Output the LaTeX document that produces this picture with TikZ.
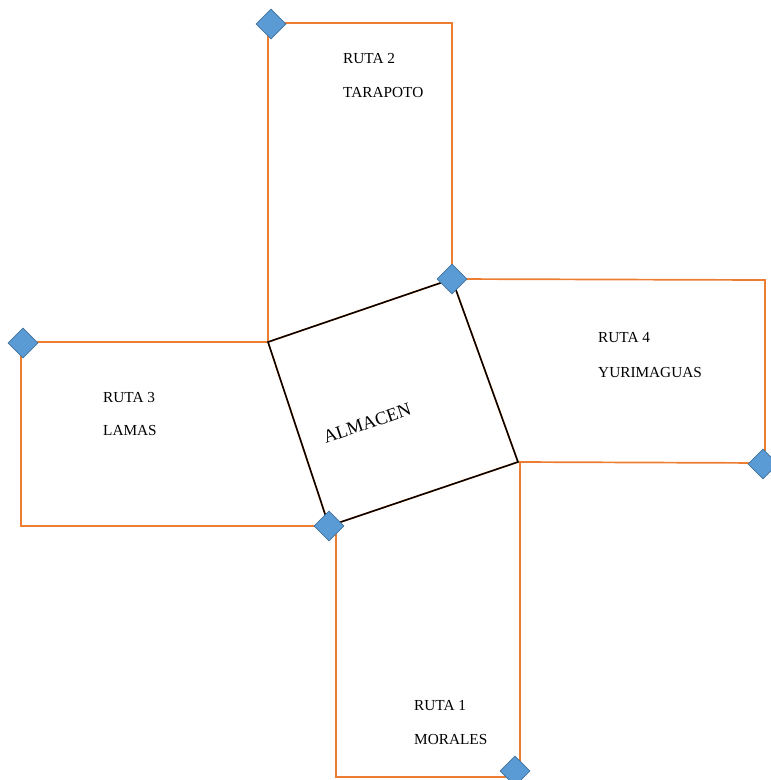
\documentclass[tikz,border=0pt]{standalone}
\usepackage{fontspec}
\setmainfont{Liberation Serif}
\usetikzlibrary{shapes.geometric}
\definecolor{rutaorange}{HTML}{ED7D31}
\definecolor{puntoblue}{HTML}{5B9BD5}
\definecolor{puntoedge}{HTML}{41719C}

\begin{document}
\begin{tikzpicture}[
        x=1pt, y=-1pt,
        zone/.style={draw=rutaorange, line width=1.7pt},
        almbox/.style={draw=black, line width=1.5pt, line join=miter},
        punto/.style={diamond, fill=puntoblue, draw=puntoedge, line width=0.6pt, minimum size=30pt, inner sep=0pt},
        ruta/.style={anchor=base west, inner sep=0pt, font=\fontsize{15.3}{18}\selectfont},
        almtext/.style={anchor=base, inner sep=0pt, rotate=19, font=\fontsize{18.5}{22}\selectfont}
    ]
        \useasboundingbox (0,0) rectangle (771,780);
        % corners of the warehouse
        \coordinate (nw) at (268,342);
        \coordinate (ne) at (452,279);
        \coordinate (se) at (518,462);
        \coordinate (sw) at (329,526);
        % route zones
        \draw[zone] (nw) -- (268,23) -- (452,23) -- (ne) -- cycle;
        \draw[zone] (ne) -- (765,280) -- (765,463) -- (se) -- cycle;
        \draw[zone] (se) -- (520,462) -- (520,777) -- (336,777) -- (336,526) -- (sw) -- cycle;
        \draw[zone] (nw) -- (21,342) -- (21,526) -- (sw) -- cycle;
        \draw[almbox] (nw) -- (ne) -- (se) -- (sw) -- cycle;
        \node[almtext] (alm) at (369,429) {ALMACEN};
        \node[ruta] (r2) at (343,63) {\begin{tabular}[t]{@{}l@{}}RUTA 2\\[16pt]TARAPOTO\end{tabular}};
        \node[ruta] (r3) at (103,402) {\begin{tabular}[t]{@{}l@{}}RUTA 3\\[15pt]LAMAS\end{tabular}};
        \node[ruta] (r4) at (598,342) {\begin{tabular}[t]{@{}l@{}}RUTA 4\\[17pt]YURIMAGUAS\end{tabular}};
        \node[ruta] (r1) at (414,710) {\begin{tabular}[t]{@{}l@{}}RUTA 1\\[16pt]MORALES\end{tabular}};
        % points
        \node[punto] (p2) at (271,24) {};
        \node[punto] (pne) at (ne) {};
        \node[punto] (p3) at (23,343) {};
        \node[punto] (psw) at (sw) {};
        \node[punto] (p4) at (763,464) {};
        \node[punto] (p1) at (515,771) {};
    \end{tikzpicture}
\end{document}
